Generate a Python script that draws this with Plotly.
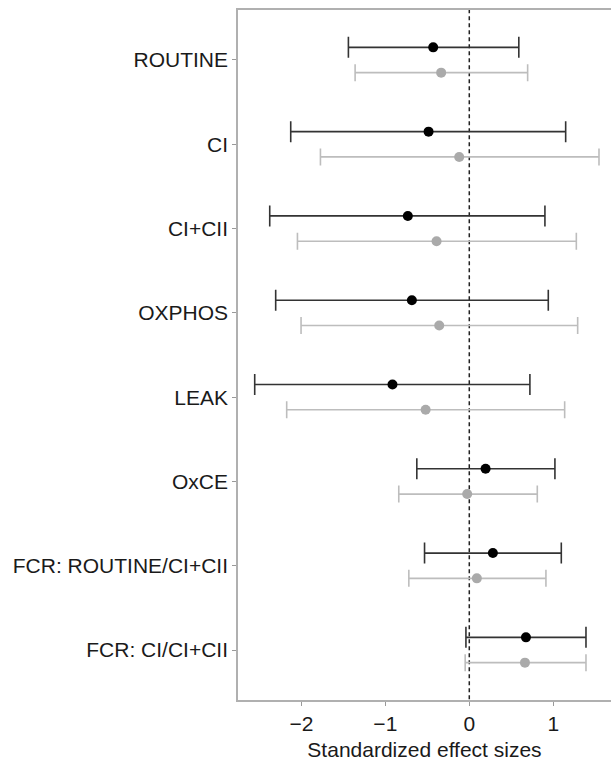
import plotly.graph_objects as go

categories = ["ROUTINE", "CI", "CI+CII", "OXPHOS", "LEAK", "OxCE",
              "FCR: ROUTINE/CI+CII", "FCR: CI/CI+CII"]

# series A (black)
a_est = [-0.43, -0.485, -0.732, -0.684, -0.915, 0.194, 0.281, 0.675]
a_lo = [-1.44, -2.127, -2.377, -2.306, -2.556, -0.625, -0.533, -0.04]
a_hi = [0.59, 1.148, 0.901, 0.941, 0.722, 1.02, 1.096, 1.39]

# series B (grey)
b_est = [-0.335, -0.12, -0.39, -0.358, -0.52, -0.025, 0.09, 0.663]
b_lo = [-1.36, -1.773, -2.047, -2.004, -2.175, -0.84, -0.72, -0.049]
b_hi = [0.695, 1.545, 1.275, 1.291, 1.136, 0.81, 0.913, 1.39]

x_ticks = [-2, -1, 0, 1]

n = len(categories)
ypos = [n - i for i in range(n)]
dodge = 0.15

fig = go.Figure()

fig.add_trace(go.Scatter(
    x=[0, 0], y=[0, n + 1], mode="lines",
    line=dict(color="#222222", width=1.5, dash="4px,3px"),
    hoverinfo="skip", showlegend=False))

fig.add_trace(go.Scatter(
    x=b_est, y=[p - dodge for p in ypos], mode="markers",
    marker=dict(color="#aaaaaa", size=10),
    error_x=dict(type="data", symmetric=False,
                 array=[h - e for h, e in zip(b_hi, b_est)],
                 arrayminus=[e - l for e, l in zip(b_est, b_lo)],
                 color="#bdbdbd", thickness=1.6, width=8.5),
    showlegend=False))

fig.add_trace(go.Scatter(
    x=a_est, y=[p + dodge for p in ypos], mode="markers",
    marker=dict(color="#000000", size=10),
    error_x=dict(type="data", symmetric=False,
                 array=[h - e for h, e in zip(a_hi, a_est)],
                 arrayminus=[e - l for e, l in zip(a_est, a_lo)],
                 color="#333333", thickness=1.6, width=10.5),
    showlegend=False))

font_family = "Arial, 'Liberation Sans', Helvetica, sans-serif"

fig.update_layout(
    width=611, height=761,
    margin=dict(l=238, r=0, t=10, b=61),
    paper_bgcolor="white", plot_bgcolor="white",
    font=dict(family=font_family, size=21, color="#1a1a1a"),
    xaxis=dict(
        range=[-2.755, 1.688], tickvals=x_ticks,
        ticktext=["\u22122", "\u22121", "0", "1"],
        showgrid=False, zeroline=False,
        showline=True, linecolor="#b0b0b0", linewidth=1.5, mirror=True,
        ticks="outside", ticklen=4, tickcolor="#999999", tickwidth=1,
        tickfont=dict(size=21, color="#1a1a1a"),
        title=dict(text="Standardized effect sizes", standoff=10,
                   font=dict(size=21, color="#1a1a1a")),
    ),
    yaxis=dict(
        range=[0.407, n + 0.593], tickvals=ypos, ticktext=categories,
        showgrid=False, zeroline=False,
        showline=True, linecolor="#b0b0b0", linewidth=1.5, mirror=False,
        ticks="outside", ticklen=4, tickcolor="#999999", tickwidth=1,
        tickfont=dict(size=21, color="#1a1a1a"),
    ),
)

fig.write_html("out.html")
